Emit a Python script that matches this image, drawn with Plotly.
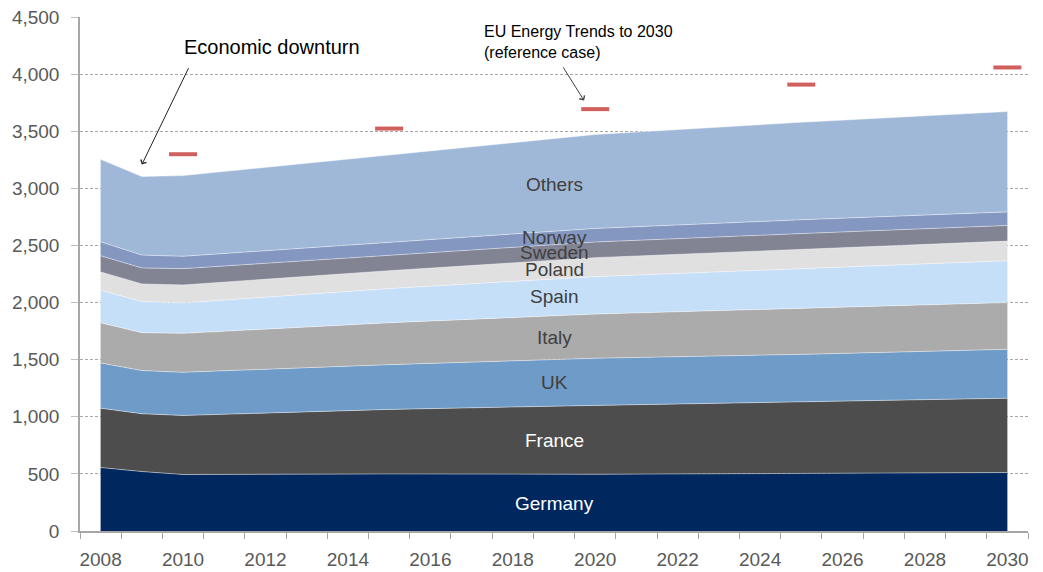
import plotly.graph_objects as go

years = [2008, 2009, 2010, 2015, 2020, 2025, 2030]

germany = [556, 521, 495, 500, 497, 507, 512]
france = [520, 506, 517, 565, 603, 622, 651]
uk = [396, 378, 378, 392, 413, 418, 428]
italy = [352, 332, 341, 367, 387, 401, 410]
spain = [285, 273, 267, 299, 328, 352, 367]
poland = [160, 154, 157, 157, 166, 168, 171]
sweden = [142, 140, 143, 137, 137, 137, 137]
norway = [122, 113, 108, 114, 119, 121, 119]
others = [722, 688, 707, 759, 823, 854, 879]

ref_years = [2010, 2015, 2020, 2025, 2030]
ref_values = [3300, 3525, 3695, 3910, 4060]

series_names = ["Germany", "France", "UK", "Italy", "Spain", "Poland", "Sweden", "Norway", "Others"]
series_values = [germany, france, uk, italy, spain, poland, sweden, norway, others]
series_colors = ["#00285E", "#4D4D4D", "#6E9BC8", "#ABABAB", "#C6DFF9",
                 "#E0E0E0", "#828494", "#8497C0", "#A0B8D7"]

label_y = [245, 796, 1301, 1697, 2053, 2294, 2440, 2569, 3035]
label_colors = ["white", "white", "#404040", "#404040", "#404040",
                "#404040", "#404040", "#404040", "#404040"]

tick_years = list(range(2008, 2031, 2))
boundary_ticks = [y - 0.5 for y in range(2008, 2032)]

FONT = "Liberation Sans, Arial, sans-serif"

fig = go.Figure()
for name, vals, col in zip(series_names, series_values, series_colors):
    fig.add_trace(go.Scatter(
        x=years, y=vals, name=name, mode="lines", stackgroup="one",
        line=dict(width=0.8, color="rgba(255,255,255,0.55)"),
        fillcolor=col, showlegend=False, hoverinfo="x+y+name"))

fig.add_trace(go.Scatter(
    x=ref_years, y=ref_values, mode="markers", showlegend=False,
    marker=dict(symbol="line-ew", size=20, color="#D0605E",
                line=dict(width=4, color="#D0605E"))))

annotations = []
for name, ly, lc in zip(series_names, label_y, label_colors):
    annotations.append(dict(x=2019.0, y=ly, xref="x", yref="y", text=name,
                            showarrow=False, font=dict(size=19, color=lc, family=FONT)))

annotations.append(dict(x=2012.16, y=4241, xref="x", yref="y", text="Economic downturn",
                        showarrow=False, font=dict(size=20, color="black", family=FONT)))
annotations.append(dict(x=2009.0, y=3209, xref="x", yref="y", ax=2010.15, ay=4067,
                        axref="x", ayref="y", text="", showarrow=True,
                        arrowhead=4, arrowsize=1.2, arrowwidth=1, arrowcolor="#222222"))
annotations.append(dict(x=2017.25, y=4282, xref="x", yref="y",
                        text="EU Energy Trends to 2030<br>(reference case)",
                        xanchor="left", align="left", showarrow=False,
                        font=dict(size=16, color="black", family=FONT)))
annotations.append(dict(x=2019.73, y=3770, xref="x", yref="y", ax=2019.2, ay=4075,
                        axref="x", ayref="y", text="", showarrow=True,
                        arrowhead=4, arrowsize=1.2, arrowwidth=1, arrowcolor="#404040"))

fig.update_layout(
    width=1035, height=564,
    margin=dict(l=72, r=15, t=9, b=41),
    plot_bgcolor="white", paper_bgcolor="white",
    font=dict(family=FONT, size=19, color="#595959"),
    annotations=annotations,
    xaxis=dict(range=[2007.5, 2030.5], tickvals=tick_years,
               ticktext=[str(y) for y in tick_years], ticks="",
               showline=True, linecolor="#A6A6A6", linewidth=1.5,
               showgrid=False, zeroline=False, ticklabelstandoff=10, automargin=False,
               ticklabeloverflow="allow",
               minor=dict(tickvals=boundary_ticks, ticks="outside", ticklen=6,
                          tickcolor="#A6A6A6", tickwidth=1, showgrid=False)),
    yaxis=dict(range=[0, 4502], tickvals=list(range(0, 4501, 500)),
               tickformat=",d", ticks="outside", ticklen=7, tickcolor="#BFBFBF",
               showline=True, linecolor="#A6A6A6", linewidth=1.5, automargin=False,
               ticklabeloverflow="allow",
               showgrid=True, gridcolor="#A6A6A6", gridwidth=1, griddash="3px,2px",
               zeroline=False, ticklabelstandoff=8),
)

fig.write_html("out.html")
